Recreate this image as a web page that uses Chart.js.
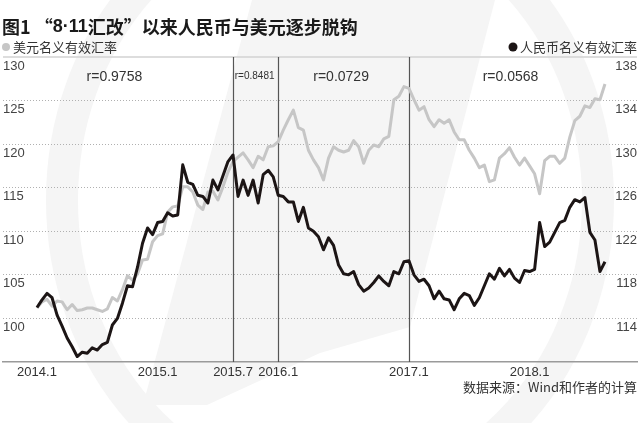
<!DOCTYPE html>
<html><head><meta charset="utf-8">
<script src="https://cdn.jsdelivr.net/npm/chart.js@4/dist/chart.umd.min.js"></script>
<style>html,body{margin:0;padding:0;background:#fff;overflow:hidden}canvas{display:block}</style>
</head><body>
<canvas id="c" width="640" height="423"></canvas>
<script>
// US dollar nominal effective exchange rate (left axis), periodic observations 2014.1 - 2018.7
const usdNeer = [
  101.2,101.9,102.2,101.4,102.0,101.9,101.0,101.6,100.9,101.0,
  101.2,101.2,101.0,100.8,101.1,102.4,102.0,103.3,104.9,104.4,
  105.1,106.7,106.8,108.8,109.5,109.7,112.2,112.8,112.9,115.1,
  115.1,114.5,113.0,112.5,114.5,114.6,113.6,115.1,116.8,118.0,
  118.5,119.0,118.2,117.3,118.6,118.2,119.7,119.8,120.3,121.6,
  122.8,123.9,121.9,121.6,119.3,118.2,117.3,115.9,118.4,119.7,
  119.3,119.1,119.3,120.4,119.7,117.8,119.3,119.9,119.7,120.6,
  120.9,125.1,125.5,126.6,126.4,125.1,123.9,124.3,122.8,122.0,
  122.8,122.4,122.8,121.4,120.5,120.5,119.3,118.4,117.3,117.6,
  115.7,115.9,118.4,118.9,119.6,118.5,117.6,118.4,117.5,116.6,
  114.3,118.1,118.6,118.6,117.8,118.4,120.8,122.7,123.2,124.4,
  124.2,125.2,125.1,126.9
];
// RMB nominal effective exchange rate (right axis)
const cnyNeer = [
  115.0,115.7,116.3,115.9,114.3,113.3,112.2,111.4,110.5,110.9,
  110.8,111.3,111.1,111.6,111.8,113.4,114.0,115.4,117.0,116.9,
  118.7,120.9,122.3,121.7,122.8,122.9,123.7,123.4,123.5,128.1,
  126.5,126.3,125.3,125.2,124.6,126.7,125.8,127.1,128.4,129.0,
  125.2,126.7,125.3,126.7,124.6,127.2,127.6,127.0,125.3,125.2,
  124.7,124.7,122.9,124.2,122.3,122.0,121.5,120.3,121.4,120.7,
  118.9,118.1,118.0,118.3,117.1,116.5,116.8,117.3,117.9,117.4,
  117.0,118.3,118.1,119.2,119.3,118.0,117.4,117.6,117.0,115.8,
  116.5,115.8,115.7,114.8,115.8,116.3,116.1,115.2,115.9,117.0,
  118.1,117.6,118.6,117.9,118.5,117.7,117.3,118.4,118.3,118.5,
  122.8,120.6,121.0,121.9,122.8,123.0,124.2,124.9,124.7,125.1,
  121.9,121.2,118.3,119.2
];
const tickLabels = ['2014.1','2015.1','2015.7','2016.1','2017.1','2018.1'];
const tickPositions = [0, 24, 39, 48, 74, 98];
const dividerLabels = ['2015.7','2016.1','2017.1'];
const rLabels = ['r=0.9758','r=0.8481','r=0.0729','r=0.0568'];
const seriesNames = ['美元名义有效汇率','人民币名义有效汇率'];
const titleParts = ['图1 “', '8·11', '汇改”以来人民币与美元逐步脱钩'];
const sourceText = '数据来源：Wind和作者的计算';

const W = 640, H = 423;
const FONT = "'Liberation Sans','Noto Sans CJK SC',sans-serif";
const CJK = "'Noto Sans CJK SC','Liberation Sans',sans-serif";
const GRAY = '#c6c6c6', BLACK = '#1c1515';
const rCenters = [15.4, 43.3, 60.5, 94.2];
const rSizes = [14, 10, 14, 14];

const decor = {
  id: 'decor',
  beforeDraw(chart) {
    const ctx = chart.ctx;
    ctx.save();
    ctx.fillStyle = '#fff'; ctx.fillRect(0, 0, W, H);
    // faint watermark
    ctx.fillStyle = '#f5f5f5';
    ctx.beginPath();
    ctx.moveTo(252, 0); ctx.lineTo(495, 0); ctx.lineTo(410, 327); ctx.lineTo(320, 353);
    ctx.lineTo(207, 405); ctx.lineTo(143, 405); ctx.closePath(); ctx.fill();
    ctx.strokeStyle = '#f5f5f5'; ctx.lineWidth = 32;
    ctx.beginPath(); ctx.ellipse(330, 200, 268, 300, 0, 0, Math.PI * 2); ctx.stroke();
    // title
    ctx.fillStyle = '#1a1a1a';
    ctx.textBaseline = 'middle'; ctx.textAlign = 'left';
    let tx = 2;
    titleParts.forEach((p, i) => {
      ctx.font = 'bold 18px ' + (i === 1 ? FONT : CJK);
      ctx.fillText(p, tx, 27);
      tx += ctx.measureText(p).width;
    });
    // legend
    ctx.font = "13px " + CJK;
    ctx.fillStyle = '#333';
    ctx.fillText(seriesNames[0], 13, 47);
    ctx.fillStyle = GRAY;
    ctx.beginPath(); ctx.arc(6, 47, 4, 0, Math.PI * 2); ctx.fill();
    ctx.textAlign = 'right'; ctx.fillStyle = '#333';
    ctx.fillText(seriesNames[1], 637, 47);
    const tw = ctx.measureText(seriesNames[1]).width;
    ctx.fillStyle = BLACK;
    ctx.beginPath(); ctx.arc(637 - tw - 7, 47, 4.5, 0, Math.PI * 2); ctx.fill();
    // source
    ctx.fillStyle = '#333'; ctx.font = "13px " + CJK;
    ctx.fillText(sourceText, 637, 387);
    ctx.restore();
  },
  beforeDatasetsDraw(chart) {
    const ctx = chart.ctx, a = chart.chartArea, xs = chart.scales.x;
    ctx.save();
    ctx.strokeStyle = '#d2d2d2'; ctx.lineWidth = 1.5;
    ctx.beginPath(); ctx.moveTo(a.left, a.top); ctx.lineTo(a.right, a.top); ctx.stroke();
    ctx.strokeStyle = '#555'; ctx.lineWidth = 1.2;
    dividerLabels.forEach(l => {
      const px = Math.round(xs.getPixelForValue(tickPositions[tickLabels.indexOf(l)])) + 0.5;
      ctx.beginPath(); ctx.moveTo(px, a.top); ctx.lineTo(px, a.bottom); ctx.stroke();
    });
    ctx.fillStyle = '#333'; ctx.textAlign = 'center'; ctx.textBaseline = 'middle';
    rLabels.forEach((t, i) => {
      ctx.font = rSizes[i] + 'px ' + FONT;
      ctx.fillText(t, xs.getPixelForValue(rCenters[i]), i === 1 ? 76 : 77);
    });
    ctx.restore();
  }
};

new Chart(document.getElementById('c'), {
  type: 'line',
  data: {
    datasets: [
      { label: seriesNames[1], data: cnyNeer.map((v, i) => ({ x: i, y: v })), yAxisID: 'yR',
        borderColor: BLACK, borderWidth: 3, pointRadius: 0, tension: 0, borderJoinStyle: 'round', order: 0 },
      { label: seriesNames[0], data: usdNeer.map((v, i) => ({ x: i, y: v })), yAxisID: 'yL',
        borderColor: GRAY, borderWidth: 3, pointRadius: 0, tension: 0, borderJoinStyle: 'round', order: 1 }
    ]
  },
  options: {
    responsive: false, animation: false, devicePixelRatio: 1,
    layout: { padding: { top: 57, left: 0, right: 0, bottom: 0 } },
    plugins: { legend: { display: false }, tooltip: { enabled: false } },
    scales: {
      x: {
        type: 'linear', min: -6.76, max: 119.37,
        grid: { display: false, drawTicks: false },
        border: { display: true, color: '#9a9a9a', width: 1.5 },
        afterBuildTicks: s => { s.ticks = tickPositions.map(v => ({ value: v })); },
        afterFit: s => { s.height = 61; },
        ticks: { autoSkip: false, maxRotation: 0, padding: 3, color: '#333',
          font: { family: FONT, size: 13 },
          callback: v => { const k = tickPositions.indexOf(v); return k >= 0 ? tickLabels[k] : ''; } }
      },
      yL: {
        position: 'left', min: 95, max: 130,
        afterFit: s => { s.width = 3; },
        border: { display: false, dash: [1, 2] },
        grid: { drawTicks: false, lineWidth: 1,
          color: c => (c.tick && (c.tick.value === 95 || c.tick.value === 130)) ? 'rgba(0,0,0,0)' : '#b0b0b0' },
        ticks: { stepSize: 5, mirror: true, padding: 0, labelOffset: 9, color: '#444',
          font: { family: FONT, size: 13 }, callback: v => v === 95 ? '' : String(v) }
      },
      yR: {
        position: 'right', min: 110, max: 138,
        afterFit: s => { s.width = 3; },
        border: { display: false },
        grid: { display: false, drawTicks: false },
        ticks: { stepSize: 4, mirror: true, padding: 0, labelOffset: 9, color: '#444',
          font: { family: FONT, size: 13 }, callback: v => v === 110 ? '' : String(v) }
      }
    }
  },
  plugins: [decor]
});
</script>
</body></html>
